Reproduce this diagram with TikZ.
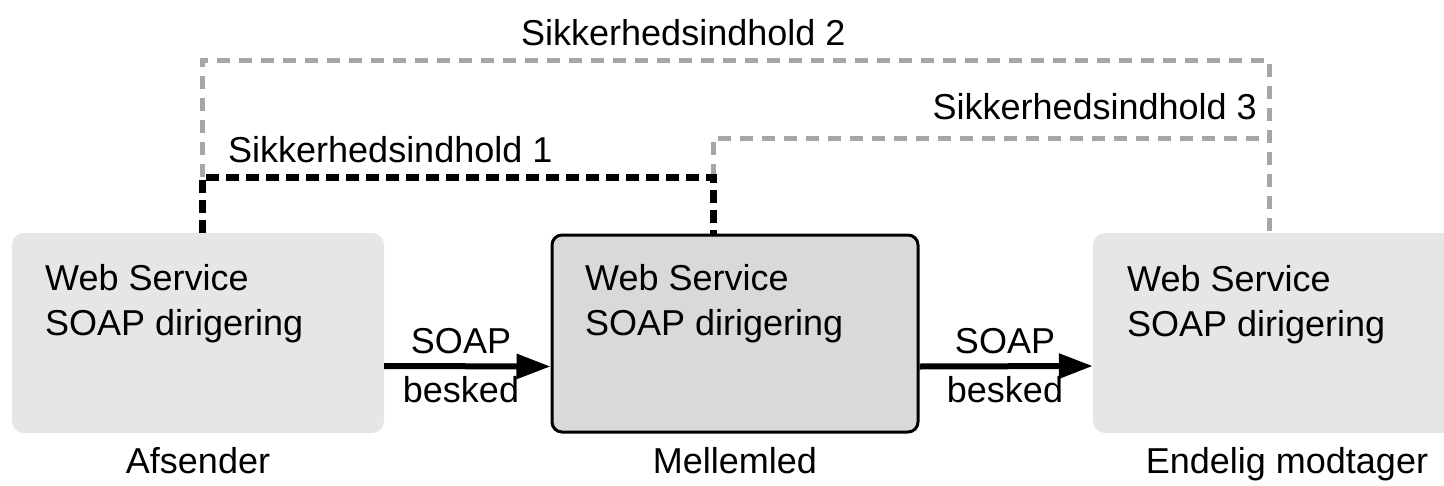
\documentclass[tikz,border=0pt]{standalone}
\usepackage{fontspec}
\setmainfont{Liberation Sans}
\usetikzlibrary{arrows.meta,calc}
\definecolor{boxlight}{HTML}{E6E6E6}
\definecolor{boxmid}{HTML}{D9D9D9}
\definecolor{secgray}{HTML}{A6A6A6}
\tikzset{
  lbl/.style={inner sep=0pt, font=\fontsize{36}{45}\selectfont},
  boxtext/.style={lbl, align=left, anchor=north west},
  plainbox/.style={rectangle, rounded corners=12pt, fill=boxlight, draw=none, inner sep=0pt},
  framedbox/.style={rectangle, rounded corners=10pt, fill=boxmid, draw=black, line width=3pt, inner sep=0pt},
  msg/.style={line width=6pt, -{Triangle[length=34pt,width=24pt]}},
  blackdash/.style={line width=7pt, dash pattern=on 13pt off 7pt},
  graydash/.style={draw=secgray, line width=5pt, dash pattern=on 13pt off 9pt},
}
\begin{document}
\begin{tikzpicture}[x=1pt,y=-1pt]
\clip (0,0) rectangle (1444,485);
\fill[white] (0,0) rectangle (1444,485);

% the three SOAP nodes
\node[plainbox, minimum width=372pt, minimum height=200pt] (snd) at (198,333) {};
\node[framedbox, minimum width=366pt, minimum height=197pt] (mid) at (735,333.5) {};
\node[plainbox, minimum width=380pt, minimum height=200pt] (rcv) at (1283,333) {};

\node[boxtext] (sndtxt) at (45,264) {Web Service\\SOAP dirigering};
\node[boxtext] (midtxt) at (585,264) {Web Service\\SOAP dirigering};
\node[boxtext] (rcvtxt) at (1127,265) {Web Service\\SOAP dirigering};

% role labels below the nodes
\node[lbl, anchor=base] (sndname) at (198,473) {Afsender};
\node[lbl, anchor=base] (midname) at (735,473) {Mellemled};
\node[lbl, anchor=base] (rcvname) at (1287,473) {Endelig modtager};

% SOAP messages
\draw[msg] ($(snd.east)+(0,33)$) -- ($(mid.west)+(0,33)$);
\draw[msg] ($(mid.east)+(0,33)$) -- ($(rcv.west)+(0,33)$);
\node[lbl, anchor=base] (m1a) at (461,353) {SOAP};
\node[lbl, anchor=base] (m1b) at (461,402) {besked};
\node[lbl, anchor=base] (m2a) at (1005,353) {SOAP};
\node[lbl, anchor=base] (m2b) at (1005,402) {besked};

% corners of the security context brackets
\coordinate (k1) at (202,177);
\coordinate (k2) at (713,177);
\coordinate (k3) at (202,60);
\coordinate (k4) at (1269,60);
\coordinate (k5) at (713,138);
\coordinate (k6) at (1269,138);

% security contexts 2 and 3 (gray)
\draw[graydash] (k1) -- (k3) -- (k4) -- (rcv.north -| k4);
\draw[graydash] (k2) -- (k5) -- (k6);
% security context 1 (black)
\draw[blackdash] (snd.north -| k1) -- (k1) -- (k2) -- (mid.north -| k2);

\node[lbl, anchor=base west] (sec1) at (228,162) {Sikkerhedsindhold 1};
\node[lbl, anchor=base west] (sec2) at (521,45) {Sikkerhedsindhold 2};
\node[lbl, anchor=base east] (sec3) at (1257,119) {Sikkerhedsindhold 3};
\end{tikzpicture}
\end{document}
